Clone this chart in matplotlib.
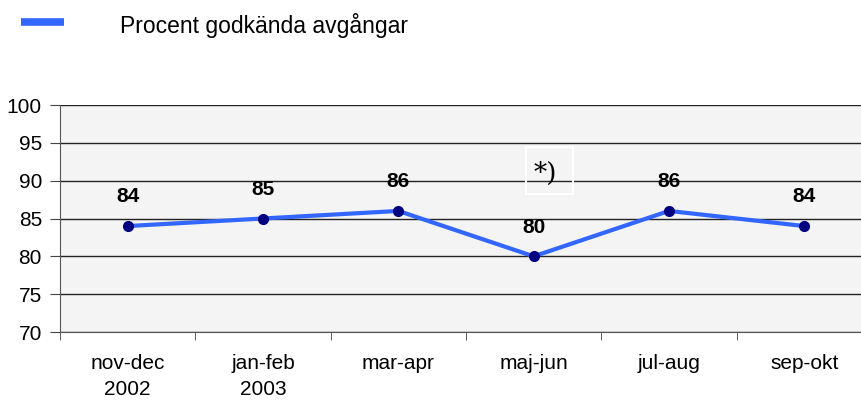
import matplotlib
matplotlib.use("Agg")
import matplotlib.pyplot as plt
from matplotlib.patches import Rectangle
from matplotlib.lines import Line2D

periods = ["nov-dec\n2002", "jan-feb\n2003", "mar-apr", "maj-jun", "jul-aug", "sep-okt"]
approved_pct = [84, 85, 86, 80, 86, 84]
legend_label = "Procent godkända avgångar"
yticks = [70, 75, 80, 85, 90, 95, 100]

plt.rcParams["font.family"] = ["Liberation Sans", "DejaVu Sans"]

fig = plt.figure(figsize=(8.61, 4.03), dpi=100)
# plot area runs a little past the right edge, as in the original
ax = fig.add_axes([60 / 861, 71 / 403, 812 / 861, 227 / 403])
ax.set_facecolor("#f4f4f4")

x = list(range(len(periods)))
ax.plot(x, approved_pct, color="#3366ff", lw=3, marker="o", ms=7,
        mfc="#000080", mec="#000080", zorder=3)
for xi, v in zip(x, approved_pct):
    ax.annotate(str(v), (xi, v), xytext=(0, 21), textcoords="offset points",
                ha="center", va="center", fontsize=15, fontweight="bold")

ax.set_xlim(-0.5, len(periods) - 0.5)
ax.set_ylim(70, 100)
ax.set_yticks(yticks)
ax.yaxis.grid(True, color="#222222", lw=1)
ax.set_axisbelow(True)

ax.set_xticks(x)
ax.set_xticklabels(periods, fontsize=15, linespacing=1.45)
ax.set_xticks([i - 0.5 for i in x] + [len(periods) - 0.5], minor=True)
ax.tick_params(axis="x", which="major", length=0, pad=16)
ax.tick_params(axis="x", which="minor", length=6, direction="out", color="#444444")
ax.tick_params(axis="y", length=7, direction="out", color="#444444", labelsize=15, pad=6)

for side in ["top", "right"]:
    ax.spines[side].set_visible(False)
ax.spines["left"].set_color("#555555")
ax.spines["bottom"].set_color("#555555")

# note box
ax.text(3.09, 91.0, "*)", family="DejaVu Serif", fontsize=19, ha="center", va="center")
ax.add_patch(Rectangle((2.94, 88.3), 0.35, 6.2, fill=False, ec="white", lw=1.5,
                       zorder=4))

# legend drawn by hand
fig.add_artist(Line2D([21 / 861, 64 / 861], [381 / 403, 381 / 403], color="#3366ff",
                      lw=5.5, solid_capstyle="butt"))
fig.text(120 / 861, 377 / 403, legend_label, fontsize=16.5, va="center", ha="left")

fig.savefig("out.png", dpi=100)
